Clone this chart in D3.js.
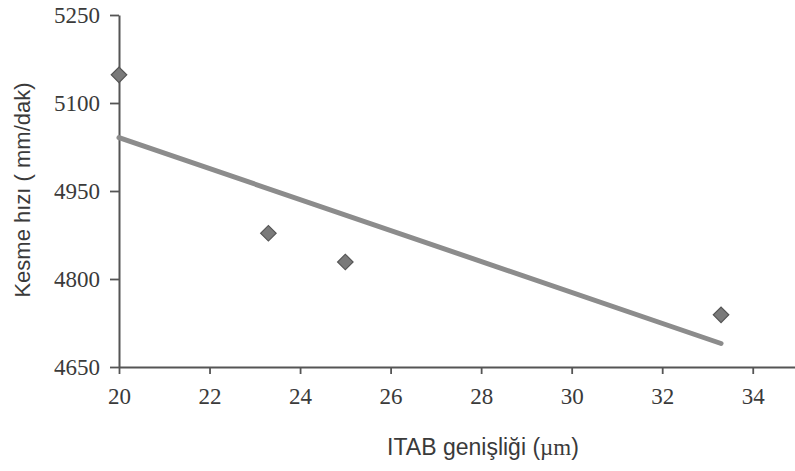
<!DOCTYPE html>
<html>
<head>
<meta charset="utf-8">
<script src="https://cdn.jsdelivr.net/npm/d3@7"></script>
</head>
<body style="margin:0;background:#fff">
<svg id="chart" width="795" height="471"></svg>
<script>
// values
const widths = [20, 23.3, 25, 33.3];          // ITAB genişliği (µm)
const speeds = [5148, 4878, 4829, 4739];      // Kesme hızı (mm/dak)
const xTicks = [20, 22, 24, 26, 28, 30, 32, 34];
const yTicks = [4650, 4800, 4950, 5100, 5250];

const svg = d3.select("#chart"),
      axisColor = "#555",
      textColor = "#3a3a3a",
      lineColor = "#8c8c8c",
      markColor = "#7a7a7a";

const x = d3.scaleLinear().domain([20, 35]).range([119, 798]);
const y = d3.scaleLinear().domain([4650, 5250]).range([367, 15]);

// least squares trend, drawn over the data range only
const mx = d3.mean(widths), my = d3.mean(speeds);
let sxy = 0, sxx = 0;
widths.forEach((w, i) => { sxy += (w - mx) * (speeds[i] - my); sxx += (w - mx) ** 2; });
const slope = sxy / sxx, icpt = my - slope * mx;
const trend = d3.extent(widths).map(w => [w, icpt + slope * w]);

// axes
const gx = svg.append("g")
    .attr("transform", `translate(0,${y(4650)})`)
    .call(d3.axisBottom(x).tickValues(xTicks).tickFormat(d3.format("d"))
      .tickSize(7).tickSizeOuter(0).tickPadding(14));
const gy = svg.append("g")
    .attr("transform", `translate(${x(20)},0)`)
    .call(d3.axisLeft(y).tickValues(yTicks).tickFormat(d3.format("d"))
      .tickSize(9).tickSizeOuter(0).tickPadding(10));

gx.attr("font-family", "Liberation Serif").attr("font-size", 23);
gy.attr("font-family", "Liberation Serif").attr("font-size", 23);
svg.selectAll(".domain").attr("stroke", axisColor).attr("stroke-width", 2);
svg.selectAll(".tick line").attr("stroke", axisColor).attr("stroke-width", 1.8);
svg.selectAll(".tick text")
    .attr("fill", textColor)
    .attr("font-family", "Liberation Serif")
    .attr("font-size", 23);
gy.selectAll(".tick text").attr("dy", "0.34em");

// trend line
svg.append("path")
    .datum(trend)
    .attr("d", d3.line().x(d => x(d[0])).y(d => y(d[1])))
    .attr("fill", "none")
    .attr("stroke", lineColor)
    .attr("stroke-width", 5)
    .attr("stroke-linecap", "round");

// points
svg.append("g").selectAll("path")
  .data(widths)
  .join("path")
    .attr("transform", (w, i) => `translate(${x(w)},${y(speeds[i])}) rotate(45)`)
    .attr("d", d3.symbol(d3.symbolSquare, 120))
    .attr("fill", markColor)
    .attr("stroke", "#555")
    .attr("stroke-width", 1.2);

// axis titles
svg.append("text")
    .attr("transform", "translate(30,190) rotate(-90)")
    .attr("text-anchor", "middle")
    .attr("fill", textColor)
    .attr("font-family", "Liberation Sans")
    .attr("font-size", 22)
    .text("Kesme hızı ( mm/dak)");

const xt = svg.append("text")
    .attr("x", 483)
    .attr("y", 455)
    .attr("text-anchor", "middle")
    .attr("fill", textColor)
    .attr("font-family", "Liberation Sans")
    .attr("font-size", 23);
xt.append("tspan").text("ITAB genişliği (");
xt.append("tspan").attr("font-family", "Liberation Serif").text("µm");
xt.append("tspan").text(")");
</script>
</body>
</html>
